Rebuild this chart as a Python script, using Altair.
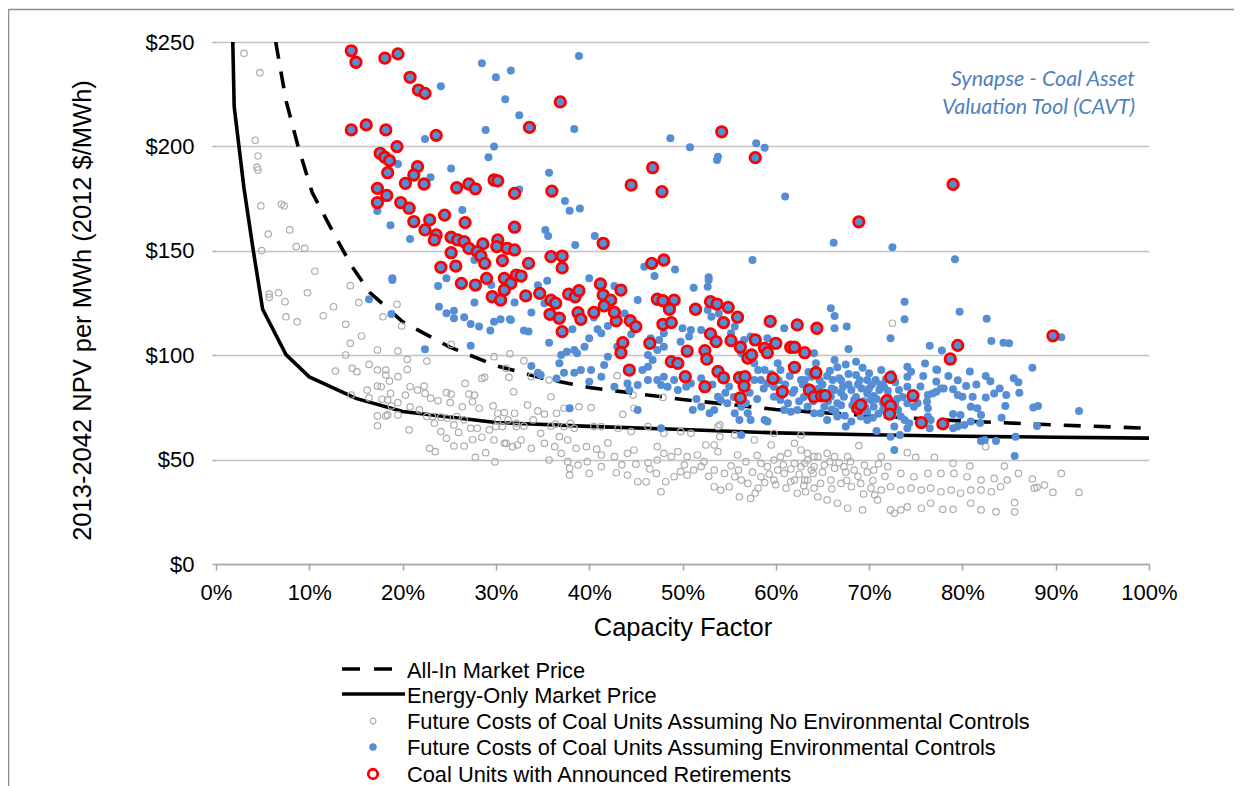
import altair as alt
import pandas as pd

FONT = "Liberation Sans"
BLUE = "#558ED5"
GRAY = "#ADADAD"
RED = "#FF0000"

# ---- market price curves (capacity factor %, $/MWh) ----
energy_cf = [1.8, 1.95, 3.0, 4.0, 5.0, 7.5, 10.0, 15.0, 20.0, 30.0, 40.0, 50.0, 60.0, 70.0, 80.0, 90.0, 100.0]
energy_price = [250, 219, 180, 150, 122, 100.3, 89.6, 79.3, 73.0, 67.8, 65.9, 64.4, 62.8, 61.9, 61.2, 60.7, 60.3]
all_in_cf = [6.4, 7.5, 8.8, 10.3, 12.6, 14.5, 16.5, 20.0, 25.0, 30.0, 35.0, 40.0, 50.0, 60.0, 70.0, 80.0, 90.0, 100.0]
all_in_price = [250, 222, 200, 178, 158.5, 143, 130, 116.0, 104.0, 95.0, 89.0, 84.5, 78.8, 74.0, 71.0, 68.5, 66.6, 65.0]

# ---- coal units assuming no environmental controls (grey open circles) ----
gray_pts = [
    (3.0, 244.6), (4.7, 235.3), (4.2, 202.9), (4.5, 195.4), (4.4, 190), (4.5, 188.7), (4.8, 171.5),
    (7.0, 172.3), (7.3, 171.5), (5.6, 158), (7.9, 160), (4.9, 150.1), (8.6, 152), (9.5, 151.2),
    (10.6, 140.2), (14.4, 133.3), (5.7, 129.3), (5.7, 127.7), (6.7, 129.9), (7.4, 125.6), (9.8, 129.9),
    (7.5, 118.4), (8.7, 116), (11.5, 118.9), (12.6, 123.2), (15.3, 125.2), (13.9, 114.8), (15.6, 109.2),
    (14.4, 105.7), (13.9, 100.1), (17.3, 102.5), (19.5, 102), (20.5, 98), (22.6, 97.2), (17.9, 118.4),
    (19.4, 124.4), (19.9, 114), (25.2, 105.2), (12.8, 92.4), (14.6, 93.7), (15.1, 92.1), (16.4, 95.6),
    (17.3, 92.9), (18.2, 92.9), (18.2, 90.5), (19.5, 89.7), (20.5, 93.2), (18.6, 87.6), (14.5, 80.9),
    (16.2, 83.3), (16.4, 79.6), (17.3, 85.2), (17.7, 84.9), (18.7, 81.7), (17.8, 78.9), (18.4, 78.5),
    (18.8, 75.7), (19.5, 77.3), (17.3, 70.9), (18.2, 70.9), (17.3, 66.2), (18.4, 71.4), (19.5, 71.4),
    (20.7, 64.2), (20.3, 80.9), (20.8, 84.9), (21.6, 83.3), (22.3, 85.2), (22.4, 81.7), (23.0, 79.4),
    (23.8, 78.2), (20.8, 75.3), (21.8, 73.8), (22.6, 70.6), (23.2, 70.6), (24.1, 70.3), (24.8, 69.8),
    (25.8, 70.6), (24.7, 82.1), (25.2, 81.4), (25.1, 77.3), (26.7, 86.5), (27.1, 81.4), (27.7, 80.9),
    (27.5, 77.7), (26.4, 75.3), (28.5, 88.9), (28.8, 89.4), (29.8, 99.3), (31.5, 100.6), (31.4, 89.4),
    (31.9, 82.5), (28.2, 74.6), (29.7, 75.7), (30.2, 72.2), (30.9, 72.5), (32.0, 72.2), (32.2, 67.4),
    (23.4, 67.4), (24.1, 63.4), (24.7, 60.2), (25.5, 66.6), (26.6, 69), (27.3, 65), (28.0, 65),
    (29.3, 64.2), (30.0, 65.8), (30.7, 65.8), (25.5, 56.5), (26.6, 56.5), (28.5, 60.7), (29.8, 59.4),
    (30.9, 57.8), (31.8, 56.2), (22.9, 55.4), (23.5, 53.8), (27.8, 51.1), (28.9, 53.3), (29.9, 48.9),
    (33.0, 97.4), (35.9, 80.1), (33.8, 89.7), (35.7, 88.1), (39.1, 92.9), (43.0, 90.2), (44.7, 80.9),
    (47.9, 79.8), (44.8, 74.6), (43.6, 71.7), (33.4, 76.1), (34.5, 73.3), (35.2, 71.8), (36.5, 72.2),
    (37.3, 74.6), (38.9, 75.3), (40.2, 74.9), (31.3, 69), (32.2, 65.8), (31.1, 57.8), (32.3, 57),
    (33.8, 55.4), (35.2, 57.8), (36.3, 56.2), (37.0, 53), (37.7, 59.4), (38.6, 55.4), (39.7, 56.2),
    (35.7, 49.8), (37.9, 45.8), (37.9, 42.6), (40.0, 43.4), (41.3, 46.6), (42.9, 43.7), (41.3, 52.2),
    (42.7, 51.4), (44.1, 53), (44.8, 54.6), (40.5, 65.8), (41.3, 65.8), (43.1, 65), (44.5, 63.4),
    (46.3, 65.8), (38.4, 65), (35.9, 66.1), (34.8, 62.6), (44.1, 42.6), (45.2, 39.4), (46.1, 39.4),
    (47.2, 43.4), (47.7, 34.6), (48.2, 39.4), (49.1, 41.8), (49.8, 44.2), (50.5, 42.6), (47.3, 56.2),
    (48.0, 53), (48.8, 51.4), (49.5, 53.8), (50.5, 51.4), (51.6, 52.2), (52.3, 49), (52.5, 57),
    (53.4, 57), (54.0, 61), (53.8, 65.8), (55.6, 61.8), (55.9, 52.2), (52.0, 46.6), (53.4, 45),
    (54.5, 43.4), (55.6, 41.8), (56.3, 40.2), (57.0, 38.6), (53.4, 37), (54.1, 35.4), (56.1, 32.2),
    (57.3, 31.4), (58.1, 36.3), (58.4, 48.2), (59.1, 46.6), (59.8, 49.8), (60.5, 51.4), (61.3, 53),
    (62.0, 48.2), (62.7, 46.6), (63.4, 49.8), (64.1, 51.4), (58.4, 41.8), (59.8, 40.2), (60.9, 43.4),
    (62.0, 40.2), (63.1, 40.2), (64.0, 43.4), (61.1, 36.3), (62.3, 33.9), (63.2, 34.6), (64.1, 36.3),
    (59.5, 57), (62.0, 57.8), (57.7, 59.4), (59.8, 62.6), (53.8, 53.8), (50.9, 62.6), (49.8, 63.4),
    (48.0, 62.6), (54.0, 66.6), (62.7, 61.8), (31.1, 93.7), (38.0, 67.4), (37.3, 65.8), (36.4, 67),
    (32.7, 59.4), (37.7, 49), (38.8, 47.4), (39.8, 49), (46.3, 48.5), (47.3, 49.8),
    (72.5, 115.3), (68.9, 56.7), (71.3, 51.4), (74.1, 53.3), (75.0, 51.1), (77.0, 51.1), (79.0, 48.2),
    (80.8, 46.9), (82.5, 56.2), (84.5, 46.9), (86.0, 43.4), (87.5, 40.7), (88.0, 36.7), (89.7, 34.3),
    (90.6, 43.4), (92.5, 34.3), (62.7, 54.6), (63.4, 53), (64.5, 51.4), (65.5, 53), (66.3, 51.4),
    (67.7, 51.4), (63.1, 48.2), (64.1, 46.6), (65.2, 47.4), (66.3, 45.8), (67.3, 46.6), (68.4, 45),
    (69.5, 47.4), (70.5, 45), (72.0, 46.6), (73.4, 43.4), (74.8, 41.8), (76.3, 43.4), (77.7, 43.4),
    (79.1, 43.4), (80.5, 41.8), (82.0, 40.2), (83.4, 41), (84.8, 40.2), (63.4, 40.2), (64.8, 38.6),
    (65.9, 40.2), (67.0, 38.6), (68.1, 37), (69.1, 38.6), (70.2, 36.3), (71.3, 35.4), (72.3, 37),
    (73.4, 35.4), (74.5, 36.3), (75.6, 35.4), (76.6, 36.3), (77.7, 34.6), (78.8, 35.4), (79.8, 33.9),
    (80.9, 35.4), (82.0, 35.4), (83.1, 34.6), (84.1, 37), (64.5, 32.2), (65.5, 30.7), (66.6, 29.1),
    (67.7, 26.7), (69.3, 25.9), (70.9, 30.7), (72.3, 25.9), (72.7, 24.3), (73.4, 25.9), (74.1, 27.4),
    (75.6, 26.7), (76.6, 29.1), (77.9, 26.2), (79.0, 26.2), (80.9, 29.1), (82.0, 25.9), (83.6, 25.0),
    (85.6, 25.0), (85.6, 29.4), (87.7, 36.3), (88.8, 37.8),
    (55.2, 47), (56.0, 45), (56.8, 49), (57.5, 44), (58.0, 52), (58.8, 39), (59.3, 43), (60.2, 45),
    (60.8, 47.5), (61.6, 45.5), (62.5, 43), (63.8, 45), (65.0, 44), (65.8, 49), (66.8, 48.5), (67.5, 44),
    (68.0, 49), (68.8, 42), (69.8, 44), (70.4, 40), (71.0, 48), (71.7, 42), (60.0, 38), (61.6, 39.5),
    (63.0, 37.5), (66.0, 36), (67.6, 40), (69.4, 33.5), (70.6, 33), (57.8, 34), (55.0, 37), (52.8, 42),
    (51.2, 45), (50.2, 47.5), (46.5, 45.5), (45.0, 47.8), (43.5, 47.5), (40.8, 55), (42.0, 58),
    (36.8, 61), (33.0, 66), (34.0, 69), (30.2, 69), (26.0, 63), (27.5, 59.5),
]

# ---- coal units assuming environmental controls (blue dots) ----
blue_pts = [
    (28.5, 239.8), (30.0, 233.1), (31.6, 236.3), (24.1, 228.8), (31.0, 222.6), (32.5, 214.9), (28.9, 207.9),
    (22.4, 203.5), (29.8, 199.9), (29.2, 194.8), (19.5, 191.6), (25.2, 189.4), (23.0, 185.2), (26.4, 169.6),
    (17.3, 169.1), (18.7, 162.2), (20.8, 155.7), (18.9, 136.8), (24.7, 136.8), (23.8, 133.1), (27.7, 145.6),
    (29.5, 133.6), (38.9, 243.3), (38.4, 208.3), (48.7, 203.9), (50.8, 199.6), (53.8, 195.1), (53.7, 193.5),
    (57.9, 201.5), (58.8, 199.4), (61.0, 176), (35.7, 187.4), (32.5, 179.4), (37.4, 173.9), (37.9, 169.2),
    (39.0, 170.2), (35.3, 160), (35.6, 157.1), (40.6, 157.1), (38.5, 152.8), (57.5, 145.6), (45.9, 142.4),
    (47.0, 137.9), (49.2, 141.1), (52.8, 137.3), (51.2, 132.3), (52.7, 132.8), (40.0, 136.8), (35.5, 135.7),
    (34.5, 133.5), (42.7, 133.1), (66.2, 153.9), (72.5, 151.7), (79.2, 145.9), (65.9, 122.5), (66.3, 118.8),
    (66.3, 112.9), (67.6, 113.7), (73.8, 125.6), (73.8, 117.2), (72.3, 108.1), (67.8, 103), (79.7, 120.8),
    (82.6, 117.5), (83.1, 106.8), (84.4, 106), (85.0, 105.7), (76.5, 104.5), (77.8, 102.2), (90.6, 108.6),
    (87.5, 94.0), (87.6, 74.9), (88.1, 75.7), (92.5, 73.3), (88.0, 66.1), (85.7, 61.0), (85.6, 51.7),
    (83.6, 58.9), (82.0, 58.9), (82.4, 59.4), (72.7, 54.6), (72.3, 61), (73.3, 61.8), (70.8, 63.7),
    (80.8, 92.2), (77.2, 93.2), (77.3, 92.9), (77.2, 87.4), (78.0, 84.1), (79.0, 83.7), (80.4, 85.2),
    (82.5, 79.8), (83.4, 81.7), (84.0, 84.1), (84.7, 80.9), (84.6, 75.7), (86.1, 82.0), (82.0, 71.4),
    (84.2, 70.1), (81.9, 67.5), (80.9, 68.2), (80.2, 66.6), (79.5, 65.8), (79.0, 65.0), (80.9, 75.3),
    (81.6, 74.6), (79.5, 80.9), (80.0, 80.1), (81.1, 80.1), (76.3, 80.9), (76.8, 81.7), (77.2, 82.5),
    (76.2, 77.7), (76.3, 74.6), (76.6, 69), (76.5, 65), (79.0, 71.8), (79.8, 71.4), (74.1, 94.5),
    (74.5, 92.1), (73.2, 83.3), (74.1, 84.9), (74.1, 77), (74.8, 75.3), (75.2, 77), (73.1, 73.8),
    (73.4, 70.6), (73.8, 69), (74.3, 67.4), (74.1, 65), (71.3, 92.9), (70.7, 88.1), (71.1, 83.3),
    (69.8, 88.1), (70.0, 91.3), (68.6, 96.9), (68.6, 90.5), (66.6, 94.2), (66.3, 97.7), (66.1, 88.1),
    (67.2, 84.9), (68.1, 83.3), (67.3, 80.1), (68.4, 78.5), (69.8, 81.7), (70.2, 78.5), (70.5, 75.3),
    (69.8, 72.9), (69.1, 70.6), (69.8, 69), (66.6, 70.6), (65.5, 69), (67.5, 65.8), (68.1, 68.2),
    (64.8, 72.2), (65.2, 75.3), (64.1, 72.2), (65.9, 80.1), (66.6, 77), (66.3, 83.3), (63.4, 75.3),
    (63.1, 88.1), (63.8, 89.7), (64.3, 96.1), (64.1, 100.9), (71.6, 84.9), (72.0, 80.1), (72.7, 65.8),
    (77.7, 84.1), (74.1, 89.7), (76.3, 70.6), (52.8, 136), (45.2, 126.4), (33.8, 120.4), (31.6, 116.9),
    (35.2, 124.9), (33.0, 111.8), (33.5, 111.3), (38.2, 112.4), (35.7, 106), (40.0, 108.1), (40.9, 112.4),
    (41.3, 110.5), (37.0, 100.1), (36.8, 96.1), (37.6, 101.7), (38.4, 102.5), (38.7, 100.9), (33.8, 94.8),
    (34.5, 91.6), (34.8, 90.5), (36.5, 88.9), (37.3, 91.6), (38.4, 91.6), (39.1, 92.9), (40.2, 92.9),
    (41.6, 95.3), (42.0, 99.3), (40.0, 87.3), (41.3, 89.7), (42.7, 84.9), (44.1, 86.5), (44.3, 83.3),
    (45.2, 85.7), (45.7, 92.9), (46.3, 94.5), (46.8, 97.7), (46.3, 88.1), (47.3, 88.1), (48.0, 89.7),
    (47.7, 85.7), (48.4, 84.9), (49.1, 88.1), (49.5, 83.3), (50.4, 84.9), (50.9, 86.5), (51.1, 73.8),
    (52.0, 75.3), (52.9, 72.2), (53.4, 73.8), (53.8, 80.1), (54.1, 78.5), (54.8, 77), (55.6, 72.2),
    (56.3, 75.3), (57.0, 72.2), (57.3, 69), (56.1, 69), (58.8, 69), (59.1, 68.2), (56.3, 61.8),
    (47.7, 65), (37.9, 74.6), (45.2, 73.8), (46.3, 100.1), (47.3, 102.5), (48.0, 104.1), (46.6, 108.1),
    (47.5, 107.3), (48.0, 110.5), (49.8, 106.5), (50.7, 108.9), (50.9, 112.1), (50.0, 112.9), (52.0, 112.1),
    (52.7, 121.6), (53.1, 118.4), (53.9, 120), (54.1, 115.3), (55.2, 110.5), (55.6, 113.7), (56.6, 107.3),
    (57.3, 108.9), (56.3, 100.9), (57.7, 96.1), (58.1, 92.9), (58.8, 92.9), (57.7, 88.1), (58.4, 88.1),
    (59.1, 86.5), (59.8, 84.9), (59.8, 80.1), (60.5, 78.5), (61.3, 77), (60.9, 73.8), (61.6, 72.9),
    (62.3, 73.8), (62.0, 83.3), (62.7, 88.1), (63.4, 84.9), (60.9, 112.9), (59.1, 108.1), (60.2, 96.1),
    (60.5, 92.9), (18.9, 136), (16.4, 126.8), (18.8, 119.7), (23.9, 123.2), (24.7, 120.1), (25.5, 121.3),
    (25.5, 117.7), (26.6, 118.2), (27.3, 114.9), (28.2, 113.7), (29.4, 111.8), (29.8, 116), (30.5, 117.2),
    (31.5, 117.2), (27.7, 125.2), (27.7, 133.1), (32.0, 125.2), (22.4, 102.8), (27.3, 104.5),
    (65.0, 86), (65.5, 90), (67.0, 88), (67.8, 91), (68.8, 86), (69.2, 84), (66.0, 74), (67.0, 76),
    (68.5, 74), (70.5, 80.5), (71.5, 77), (71.0, 72), (72.5, 71), (63.0, 80), (62.5, 78), (61.8, 82),
    (64.6, 84), (65.8, 92.5), (67.5, 95.5), (69.3, 94), (70.3, 86), (71.8, 88.5), (72.8, 87), (73.6, 80),
    (75.5, 85), (75.8, 90), (76.0, 96), (78.5, 90), (79.5, 88), (81.5, 86), (82.5, 90), (83.0, 87.5),
    (85.5, 89), (86.0, 87), (40.5, 118), (42.0, 114), (43.8, 120), (44.5, 110), (39.5, 104), (43.0, 104),
    (62.9, 86), (63.5, 92), (64.0, 78), (64.7, 88), (65.2, 82), (65.6, 78), (66.0, 84), (66.4, 73),
    (66.8, 89), (67.0, 82), (67.4, 71), (67.8, 86), (68.2, 76), (68.6, 80), (69.0, 88), (69.4, 78),
    (69.6, 75), (70.0, 84), (70.4, 70), (70.8, 79), (71.2, 86), (71.5, 74), (72.0, 83), (72.4, 91),
    (72.8, 76), (73.0, 79), (61.0, 86), (61.5, 90), (60.3, 88), (59.5, 91), (58.7, 84), (58.0, 79),
    (57.2, 82), (56.8, 77), (55.5, 80), (55.0, 85), (54.6, 82), (53.2, 86), (52.0, 89), (51.5, 79),
]

# ---- coal units with announced retirements (red rings) ----
red_pts = [
    (14.5, 245.8), (15.0, 240.3), (18.1, 242.3), (19.5, 244.3), (20.8, 233.1), (21.7, 227), (22.4, 225.4),
    (14.5, 207.9), (16.1, 210.3), (18.2, 207.9), (23.6, 205.3), (19.4, 199.9), (17.6, 196.7), (18.1, 194.8),
    (18.6, 193.2), (21.6, 190.3), (21.2, 186.3), (18.4, 187.4), (20.3, 182.3), (22.3, 182), (17.3, 179.9),
    (18.3, 176.5), (17.3, 173.1), (19.8, 173.1), (20.7, 170.4), (25.8, 180.2), (27.1, 182), (27.8, 179.7),
    (29.8, 183.9), (30.2, 183.5), (32.0, 177.5), (24.5, 167.1), (26.7, 163.5), (21.2, 164), (22.9, 164.8),
    (22.4, 160), (23.6, 157.6), (23.4, 155.2), (25.2, 156.5), (25.9, 155.2), (26.6, 154.4), (28.6, 153.3),
    (30.2, 155.2), (30.1, 152), (31.2, 151.2), (32.0, 150.4), (25.2, 149.1), (27.1, 151.2), (28.0, 149.6),
    (28.4, 147.5), (28.8, 144), (30.7, 145.3), (32.0, 161.3), (24.1, 142.1), (25.7, 142.7), (26.3, 134.4),
    (27.8, 133.6), (29.0, 136.8), (30.9, 136.8), (31.6, 134.4), (32.2, 138.4), (36.9, 221.3), (33.6, 209.1),
    (54.2, 207), (57.8, 194.6), (46.8, 189.8), (44.5, 181.5), (47.8, 178.3), (36.0, 178.6), (41.5, 153.6),
    (35.9, 147.2), (37.1, 147.5), (37.1, 141.8), (33.5, 144), (46.7, 144), (48.0, 145.6), (32.7, 137.9),
    (33.2, 128.4), (34.7, 129.6), (35.9, 126.4), (36.4, 124.9), (35.8, 119.6), (36.8, 117.7), (37.1, 111.3),
    (37.8, 129.3), (38.5, 128), (38.9, 130.9), (38.8, 120.4), (39.1, 117.2), (40.5, 120.5), (41.2, 134.1),
    (41.5, 128.8), (42.3, 126.4), (42.9, 116.5), (42.7, 120.5), (43.4, 131.2), (41.6, 123.6), (44.4, 116.5),
    (45.0, 113.7), (43.6, 106), (43.4, 101.2), (44.3, 92.9), (46.5, 105.7), (47.3, 126.8), (47.9, 126.1),
    (49.1, 126.4), (48.6, 122), (47.9, 114.8), (48.8, 115.6), (48.8, 96.9), (49.5, 96.1), (50.3, 89.7),
    (50.5, 102), (51.4, 122), (53.0, 125.6), (53.7, 124.5), (54.9, 122.9), (55.9, 118.2), (54.4, 115.6),
    (53.0, 110.2), (53.6, 106.5), (52.4, 102.2), (52.6, 98.1), (53.8, 92.2), (54.4, 89.2), (52.4, 84.9),
    (55.2, 107), (56.2, 103.8), (56.1, 89.2), (56.7, 89.7), (56.6, 85.2), (56.2, 79.6), (57.0, 98.6),
    (57.4, 100.1), (57.8, 107.3), (58.8, 103.3), (59.1, 101.2), (59.4, 116.2), (60.0, 105.7), (59.7, 88.9),
    (60.7, 82.5), (61.6, 103.8), (62.0, 103.8), (62.0, 94.2), (62.3, 114.5), (63.1, 101.2), (64.4, 112.9),
    (64.3, 91.6), (63.6, 83.3), (64.1, 80.1), (64.9, 80.5), (65.3, 80.6), (68.8, 74.6), (69.1, 76.1),
    (71.9, 78.2), (72.3, 75.7), (72.2, 71.8), (72.3, 89.4), (74.7, 80.6), (75.6, 67.7), (77.9, 67.1),
    (78.7, 98.2), (79.5, 104.7), (89.7, 109.3), (68.9, 163.9), (79.0, 181.8), (29.6, 128), (30.5, 126.4),
    (30.9, 131.2),
]

legend_labels = [
    "All-In Market Price",
    "Energy-Only Market Price",
    "Future Costs of Coal Units Assuming No Environmental Controls",
    "Future Costs of Coal Units Assuming Environmental Controls",
    "Coal Units with Announced Retirements",
]
note_lines = ["Synapse - Coal Asset", "Valuation Tool (CAVT)"]
x_ticks = list(range(0, 101, 10))
y_ticks = [0, 50, 100, 150, 200, 250]

# ---------------- build tables ----------------
energy_df = pd.DataFrame({"cf": energy_cf, "cost": energy_price})
allin_df = pd.DataFrame({"cf": all_in_cf, "cost": all_in_price})
gray_df = pd.DataFrame(gray_pts, columns=["cf", "cost"])
blue_df = pd.DataFrame(blue_pts, columns=["cf", "cost"])
red_df = pd.DataFrame(red_pts, columns=["cf", "cost"])
one = pd.DataFrame({"k": [0]})

x_scale = alt.Scale(domain=[0, 100], nice=False)
y_scale = alt.Scale(domain=[0, 250], nice=False)

x_axis = alt.Axis(
    values=x_ticks, labelExpr="datum.value + '%'", title="Capacity Factor",
    grid=False, domain=True, domainColor="#A6A6A6", domainWidth=1.5,
    ticks=True, tickColor="#A6A6A6", tickSize=6, tickWidth=1.5,
    labelFont=FONT, labelFontSize=22, labelColor="black", labelPadding=29,
    labelBaseline="alphabetic", labelFlush=False, labelOverlap=False,
    titleFont=FONT, titleFontSize=25.5, titleFontWeight="normal", titleColor="black",
    titleY=71, titleBaseline="alphabetic",
)
y_axis = alt.Axis(
    values=y_ticks, labelExpr="'$' + datum.value",
    title="2013-2042 NPV per MWh (2012 $/MWh)",
    grid=True, gridColor="#C4C4C4", gridWidth=1.3, domain=False,
    ticks=True, tickColor="#A6A6A6", tickSize=4, tickWidth=1.5,
    labelFont=FONT, labelFontSize=22, labelColor="black", labelPadding=18,
    labelBaseline="middle", labelFlush=False, labelOverlap=False,
    titleFont=FONT, titleFontSize=25.5, titleFontWeight="normal", titleColor="black",
    titleX=-134, titleY=268, titleAngle=270, titleBaseline="middle", titleAlign="center",
)
X = alt.X("cf:Q", scale=x_scale, axis=x_axis)
Y = alt.Y("cost:Q", scale=y_scale, axis=y_axis)

energy_line = alt.Chart(energy_df).mark_line(color="black", strokeWidth=3.6, clip=True).encode(x=X, y=Y)
allin_line = alt.Chart(allin_df).mark_line(
    color="black", strokeWidth=3.6, strokeDash=[17, 13], clip=True
).encode(x=X, y=Y)
gray_layer = alt.Chart(gray_df).mark_point(
    shape="circle", filled=False, color=GRAY, size=42, strokeWidth=1.2, opacity=1
).encode(x=X, y=Y)
blue_layer = alt.Chart(blue_df).mark_circle(color=BLUE, size=64, opacity=1).encode(x=X, y=Y)
red_layer = alt.Chart(red_df).mark_point(
    shape="circle", filled=True, fill=BLUE, stroke=RED, strokeWidth=2.8, size=110, opacity=1
).encode(x=X, y=Y)

# annotation
note = alt.Chart(one).mark_text(
    text=note_lines, align="right", baseline="alphabetic", font="Lato", fontStyle="italic",
    fontSize=21.5, color="#4F81BD", lineHeight=28,
).encode(x=alt.value(919), y=alt.value(44))

# outer chart frame (left and top edges; the rest runs off the page)
frame_left = alt.Chart(one).mark_rule(color="#8C8C8C", strokeWidth=1.5).encode(
    x=alt.value(-207.5), y=alt.value(-32.5), y2=alt.value(2000)
)
frame_top = alt.Chart(one).mark_rule(color="#8C8C8C", strokeWidth=1.5).encode(
    x=alt.value(-207.5), x2=alt.value(2000), y=alt.value(-32.5)
)

# custom legend below the plot
row_y = [629, 654, 680, 706, 733]
legend_layers = []
legend_layers.append(alt.Chart(one).mark_rule(color="black", strokeWidth=3.6, strokeDash=[18, 14]).encode(
    x=alt.value(126), x2=alt.value(176), y=alt.value(row_y[0] - 2)))
legend_layers.append(alt.Chart(one).mark_rule(color="black", strokeWidth=3.6).encode(
    x=alt.value(126), x2=alt.value(189), y=alt.value(row_y[1] - 2)))
legend_layers.append(alt.Chart(one).mark_point(
    shape="circle", filled=False, color=GRAY, size=34, strokeWidth=1.2, opacity=1
).encode(x=alt.value(157), y=alt.value(row_y[2] - 1)))
legend_layers.append(alt.Chart(one).mark_circle(color=BLUE, size=56, opacity=1).encode(
    x=alt.value(157), y=alt.value(row_y[3] - 1)))
legend_layers.append(alt.Chart(one).mark_point(
    shape="circle", filled=False, color=RED, size=90, strokeWidth=2.8, opacity=1
).encode(x=alt.value(157), y=alt.value(row_y[4] - 1)))
for lab, yy in zip(legend_labels, row_y):
    legend_layers.append(alt.Chart(one).mark_text(
        text=lab, align="left", baseline="middle", font=FONT, fontSize=21.8, color="black"
    ).encode(x=alt.value(191), y=alt.value(yy)))

chart = alt.layer(
    frame_left, frame_top, energy_line, allin_line, gray_layer, blue_layer, red_layer, note, *legend_layers
).properties(
    width=933, height=522,
    padding={"left": 208, "top": 34, "right": 85, "bottom": 222},
    autosize=alt.AutoSizeParams(type="none"),
    background="white",
).configure_view(strokeWidth=0)

chart.save("out.html", embed_options={"renderer": "svg", "actions": False})
